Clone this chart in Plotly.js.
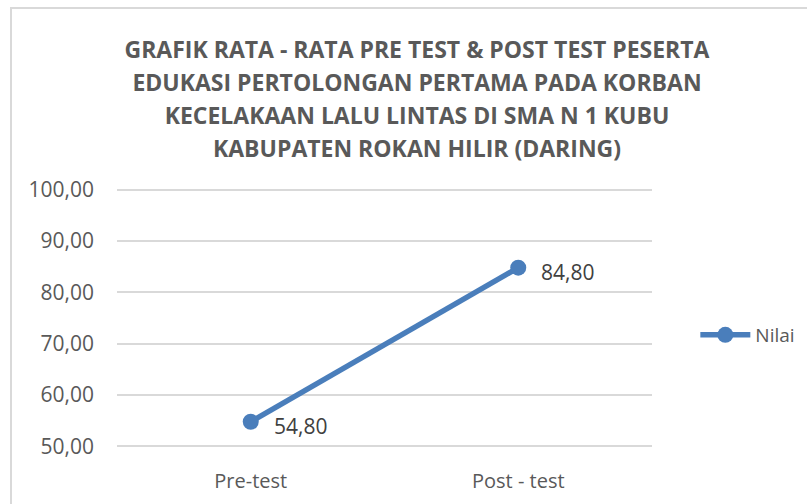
<!DOCTYPE html>
<html><head><meta charset="utf-8">
<script src="https://cdn.plot.ly/plotly-3.0.1.min.js"></script>
<style>
html,body{margin:0;padding:0;width:807px;height:504px;overflow:hidden;background:#fff;}
#frame{position:absolute;left:10px;top:7px;width:900px;height:600px;border:2px solid #d9d9d9;box-sizing:border-box;}
#chart{position:absolute;left:0;top:0;width:807px;height:504px;}
</style></head>
<body>
<div id="frame"></div>
<div id="chart"></div>
<script>
const categories = ["Pre-test", "Post - test"];
const values = [54.80, 84.80];
const seriesName = "Nilai";
const yTicks = [50, 60, 70, 80, 90, 100];
const titleLines = [
  "GRAFIK RATA - RATA PRE TEST & POST TEST PESERTA",
  "EDUKASI PERTOLONGAN PERTAMA PADA KORBAN",
  "KECELAKAAN LALU LINTAS DI SMA N 1 KUBU",
  "KABUPATEN ROKAN HILIR (DARING)"
];
const fmt = v => v.toFixed(2).replace('.', ',');
const color = '#4A7EBB';
const textColor = '#595959';
const font = '"Open Sans", "Noto Sans", sans-serif';

const trace = {
  x: categories, y: values, name: seriesName, type: 'scatter', mode: 'lines+markers',
  line: {color: color, width: 5.5},
  marker: {color: color, size: 16},
  hoverinfo: 'skip'
};

const annotations = categories.map((c, i) => ({
  x: c, y: values[i], xref: 'x', yref: 'y', text: fmt(values[i]),
  showarrow: false, xanchor: 'left', yanchor: 'middle', xshift: 21, yshift: -4,
  font: {family: font, size: 21, color: '#404040'}
}));

const layout = {
  width: 807, height: 504,
  paper_bgcolor: 'rgba(0,0,0,0)', plot_bgcolor: 'rgba(0,0,0,0)',
  margin: {l: 117, r: 155, t: 187, b: 55, autoexpand: false},
  title: {
    text: titleLines.map(t => '<span style="font-size:23px"><b>' + t + '</b></span>').join('<br>'),
    font: {family: font, size: 25.4, color: textColor},
    x: 417/807, xanchor: 'center', xref: 'container',
    y: 1 - 58/504, yanchor: 'top', yref: 'container'
  },
  xaxis: {
    type: 'category', range: [-0.5, 1.5], showgrid: false, zeroline: false, showline: false, ticks: '',
    ticklabelstandoff: 18, automargin: false,
    tickfont: {family: font, size: 20, color: textColor}, fixedrange: true
  },
  yaxis: {
    range: [49.5, 100.5], tickvals: yTicks, ticktext: yTicks.map(fmt),
    showgrid: true, gridcolor: '#d9d9d9', gridwidth: 2, zeroline: false, showline: false,
    ticks: '', ticklabelstandoff: 22, automargin: false,
    tickfont: {family: font, size: 21, color: textColor}, fixedrange: true
  },
  showlegend: true,
  legend: {
    x: 1.081, xanchor: 'left', yanchor: 'middle', yref: 'paper',
    font: {family: font, size: 19, color: textColor}, itemwidth: 50
  },
  annotations: annotations
};
layout.legend.y = 1 - (335-187)/(449-187);
Plotly.newPlot('chart', [trace], layout, {displayModeBar: false, staticPlot: true});
</script>
</body></html>
